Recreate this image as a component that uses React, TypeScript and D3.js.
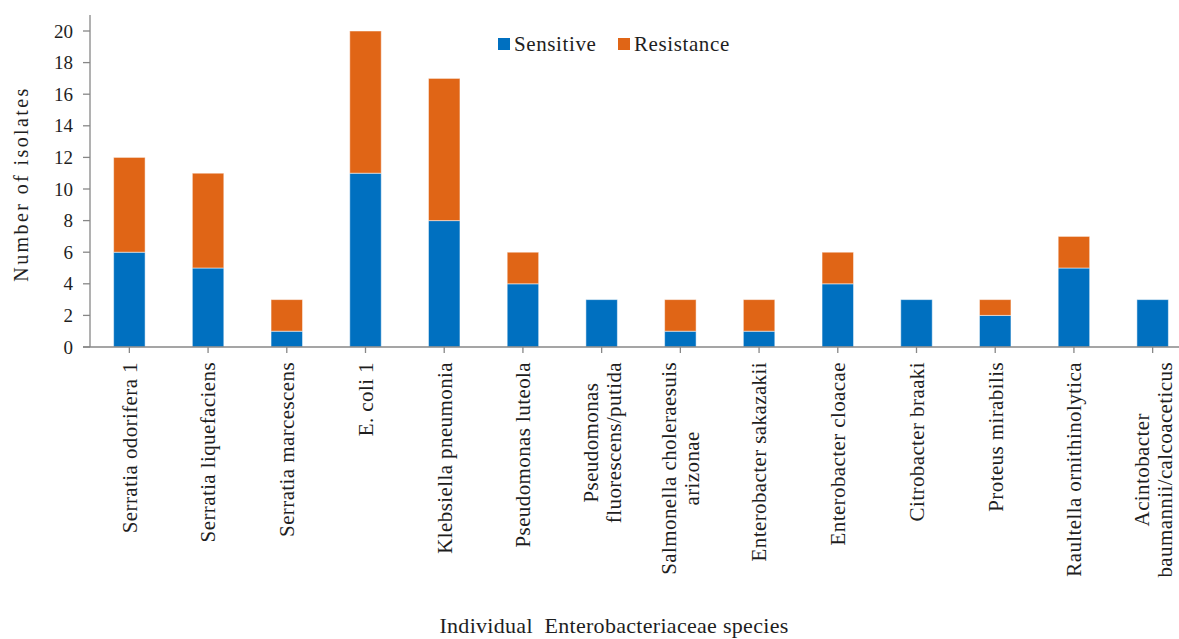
import React from "react";
import * as d3 from "d3";

const categories: string[][] = [
  ["Serratia odorifera 1"],
  ["Serratia liquefaciens"],
  ["Serratia marcescens"],
  ["E. coli 1"],
  ["Klebsiella pneumonia"],
  ["Pseudomonas luteola"],
  ["Pseudomonas", "fluorescens/putida"],
  ["Salmonella choleraesuis", "arizonae"],
  ["Enterobacter sakazakii"],
  ["Enterobacter cloacae"],
  ["Citrobacter braaki"],
  ["Proteus mirabilis"],
  ["Raultella ornithinolytica"],
  ["Acintobacter", "baumannii/calcoaceticus"],
];
const sensitive = [6, 5, 1, 11, 8, 4, 3, 1, 1, 4, 3, 2, 5, 3];
const resistance = [6, 6, 2, 9, 9, 2, 0, 2, 2, 2, 0, 1, 2, 0];
const yTicks = [0, 2, 4, 6, 8, 10, 12, 14, 16, 18, 20];
const seriesNames = ["Sensitive", "Resistance"];
const colors = ["#0070C0", "#E06516"];

const W = 1179;
const H = 639;
const FONT = "'Liberation Serif', 'Times New Roman', serif";
const LABEL_SIZE = 21;
const LABEL_LS = 0.4;

function measure(text: string, size: number, ls: number): number {
  const c = document.createElement("canvas").getContext("2d");
  if (!c) return text.length * size * 0.45;
  c.font = `${size}px ${FONT}`;
  return c.measureText(text).width + ls * text.length;
}

export default function App() {
  const ids = categories.map((_, i) => String(i));
  const x = d3.scaleBand<string>().domain(ids).range([90, 1192]).paddingInner(0.6).paddingOuter(0.3);
  const y = d3.scaleLinear().domain([0, 20]).range([347, 31]);
  const rows = ids.map((id, i) => ({ id, Sensitive: sensitive[i], Resistance: resistance[i] }));
  const stacked = d3.stack<any>().keys(seriesNames)(rows);
  const axisColor = "#878787";
  const textColor = "#1e1e1e";
  const cx = (i: number) => (x(ids[i]) as number) + x.bandwidth() / 2;

  return (
    <svg
      width={W}
      height={H}
      style={{ position: "absolute", left: 0, top: 0, background: "#fff", fontFamily: FONT }}
    >
      {stacked.map((s, si) => (
        <g key={si} fill={colors[si]}>
          {s.map((d, i) =>
            d[1] - d[0] > 0 ? (
              <rect
                key={i}
                x={x(ids[i])}
                width={x.bandwidth()}
                y={y(d[1])}
                height={y(d[0]) - y(d[1])}
                stroke="#ffffff"
                strokeOpacity={0.5}
                strokeWidth={1}
              />
            ) : null
          )}
        </g>
      ))}
      {/* y axis */}
      <line x1={90} x2={90} y1={15} y2={347} stroke={axisColor} strokeWidth={1.3} />
      {yTicks.map((t) => (
        <g key={t}>
          <line x1={83} x2={90} y1={y(t)} y2={y(t)} stroke={axisColor} strokeWidth={1.3} />
          <text x={73} y={y(t)} dy="0.35em" textAnchor="end" fontSize={19} fill={textColor}>
            {t}
          </text>
        </g>
      ))}
      {/* x axis */}
      <line x1={83} x2={W} y1={347} y2={347} stroke={axisColor} strokeWidth={1.3} />
      {ids.map((id, i) => (
        <line key={id} x1={cx(i)} x2={cx(i)} y1={347} y2={353} stroke={axisColor} strokeWidth={1.3} />
      ))}
      {categories.map((lines, i) => {
        const n = lines.length;
        const maxW = Math.max(...lines.map((l) => measure(l, LABEL_SIZE, LABEL_LS)));
        return (
          <g key={i} transform={`translate(${cx(i)},${362}) rotate(-90)`}>
            {lines.map((ln, li) => (
              <text
                key={li}
                x={n > 1 ? -maxW / 2 : 0}
                y={(li - (n - 1) / 2) * 23}
                dy="0.35em"
                textAnchor={n > 1 ? "middle" : "end"}
                fontSize={LABEL_SIZE}
                letterSpacing={LABEL_LS}
                fill={textColor}
              >
                {ln}
              </text>
            ))}
          </g>
        );
      })}
      {/* axis titles */}
      <text
        x={21}
        y={184}
        transform="rotate(-90,21,184)"
        textAnchor="middle"
        dy="0.35em"
        fontSize={20}
        letterSpacing={2.4}
        fill={textColor}
      >
        Number of isolates
      </text>
      <text
        x={614}
        y={625}
        textAnchor="middle"
        dy="0.35em"
        fontSize={22}
        letterSpacing={0.3}
        fill={textColor}
        style={{ whiteSpace: "pre" }}
      >
        {"Individual  Enterobacteriaceae species"}
      </text>
      {/* legend */}
      {seriesNames.map((nm, i) => {
        const lx = i === 0 ? 498 : 618;
        return (
          <g key={nm}>
            <rect x={lx} y={38} width={12} height={12} fill={colors[i]} />
            <text x={lx + 16} y={44} dy="0.35em" fontSize={21} letterSpacing={0.6} fill={textColor}>
              {nm}
            </text>
          </g>
        );
      })}
    </svg>
  );
}
